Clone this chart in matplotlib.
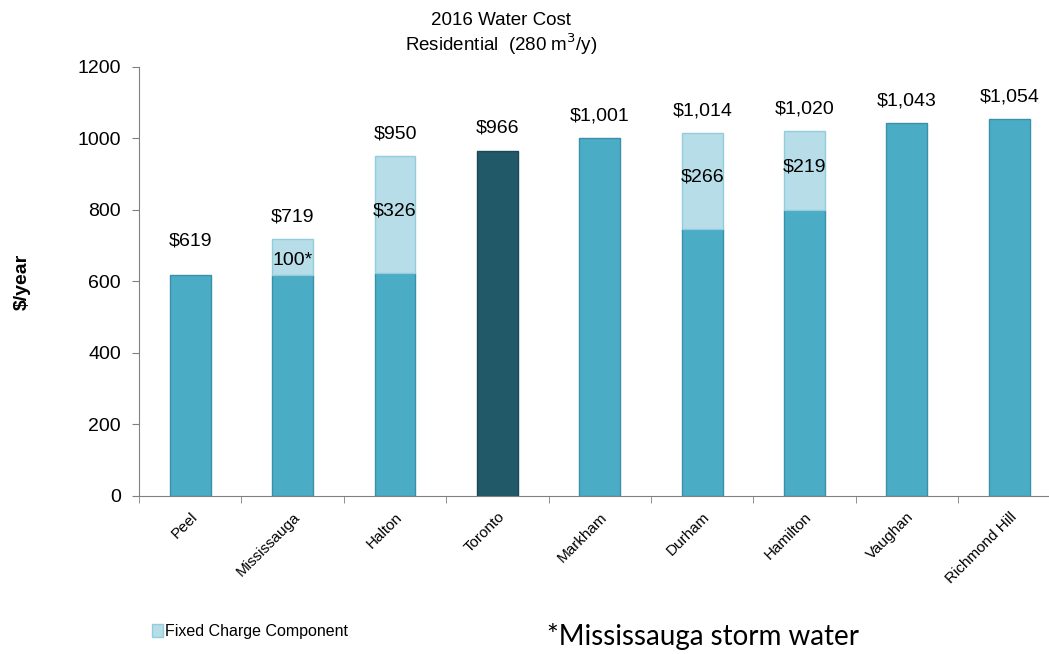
import matplotlib.pyplot as plt
import numpy as np

plt.rcParams["font.family"] = ["Liberation Sans", "DejaVu Sans"]

cities = ["Peel", "Mississauga", "Halton", "Toronto", "Markham",
          "Durham", "Hamilton", "Vaughan", "Richmond Hill"]
totals = [619, 719, 950, 966, 1001, 1014, 1020, 1043, 1054]
fixed = [0, 100, 326, 0, 0, 266, 219, 0, 0]
total_labels = ["$619", "$719", "$950", "$966", "$1,001", "$1,014",
                "$1,020", "$1,043", "$1,054"]
fixed_labels = ["", "100*", "$326", "", "", "$266", "$219", "", ""]

base = [t - f for t, f in zip(totals, fixed)]
x = np.arange(len(cities))

fig = plt.figure(figsize=(10.49, 6.54), dpi=100)
ax = fig.add_axes([0.1325, 0.2416, 0.8675, 0.656])

colors = ["#4BACC6"] * len(cities)
edges = ["#3A90A8"] * len(cities)
colors[3] = "#215968"
edges[3] = "#1A4854"

ax.bar(x, base, width=0.4, color=colors, edgecolor=edges, linewidth=1)
fixed_edges = ["#92CDDC" if f > 0 else "none" for f in fixed]
ax.bar(x, fixed, bottom=base, width=0.4, color="#B7DEE8",
       edgecolor=fixed_edges, linewidth=1)

for i in range(len(cities)):
    off = 95 if i == 0 else 62
    ax.text(x[i], totals[i] + off, total_labels[i], ha="center", va="center",
            fontsize=14)
    if fixed_labels[i]:
        if i == 1:
            ypos = base[i] + 40
        else:
            ypos = base[i] + fixed[i] * 0.5 + 10
        ax.text(x[i], ypos, fixed_labels[i], ha="center", va="center",
                fontsize=14)

ax.set_xlim(-0.5, 8.387)
ax.set_ylim(0, 1200)
ax.set_yticks(range(0, 1201, 200))
ax.tick_params(axis="y", labelsize=14, length=5, color="#808080", pad=8)
ax.set_xticks(x)
ax.set_xticklabels(cities, rotation=45, ha="right", rotation_mode="anchor",
                   fontsize=11)
ax.set_xticks(np.arange(len(cities)) - 0.5, minor=True)
ax.tick_params(axis="x", which="major", length=0, pad=10)
ax.tick_params(axis="x", which="minor", length=5, color="#808080")
for s in ["top", "right"]:
    ax.spines[s].set_visible(False)
ax.spines["left"].set_color("#808080")
ax.spines["bottom"].set_color("#808080")

fig.text(0.021, 0.569, "$/year", rotation=90, ha="center", va="center",
         fontsize=14, fontweight="bold")
fig.text(0.478, 0.968, "2016 Water Cost", ha="center", va="center",
         fontsize=13.5)
fig.text(0.478, 0.932, "Residential  (280 m$^3$/y)", ha="center",
         va="center", fontsize=13.5)

handle = plt.Rectangle((0, 0), 1, 1, facecolor="#B7DEE8",
                       edgecolor="#92CDDC", linewidth=1)
fig.legend([handle], ["Fixed Charge Component"], loc="center left",
           bbox_to_anchor=(0.131, 0.034), frameon=False,
           fontsize=11.5, handlelength=0.7, handleheight=0.9,
           handletextpad=0.15)
fig.text(0.521, 0.013, "*Mississauga storm water", ha="left",
         va="baseline", fontsize=20, family=["Lato", "DejaVu Sans"])

fig.savefig("out.png", dpi=100)
